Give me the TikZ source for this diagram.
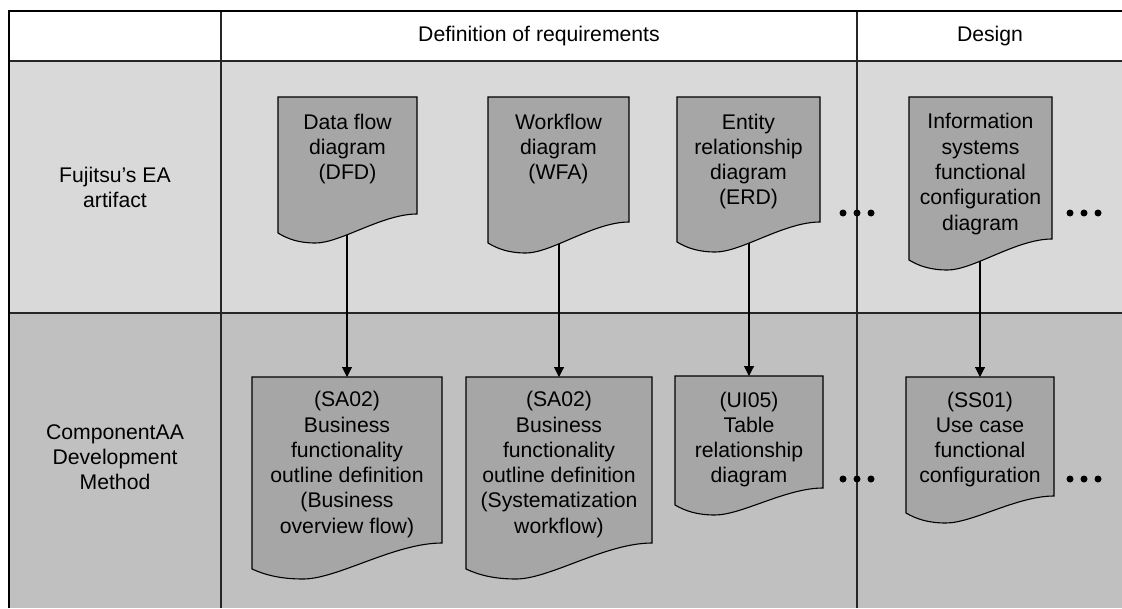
\documentclass[tikz,border=0pt]{standalone}
\usepackage{fontspec}
\setmainfont{Liberation Sans}
\usetikzlibrary{arrows.meta}
\definecolor{rowA}{HTML}{D9D9D9}
\definecolor{rowB}{HTML}{C0C0C0}
\definecolor{docfill}{HTML}{A6A6A6}
\tikzset{
  docbox/.style={draw=black, fill=docfill, line width=1.1pt},
  doctext/.style={align=center, font=\fontsize{21.2}{25.3}\selectfont, inner sep=0pt},
  hdrtext/.style={align=center, font=\fontsize{21.2}{25.3}\selectfont, inner sep=0pt},
  flow/.style={line width=1.1pt, -{Triangle[width=10pt,length=10pt]}},
  gridline/.style={line width=1.5pt, draw=black!85},
  dotmark/.style={fill=black, circle, inner sep=0pt, minimum size=7pt},
}
% x1, x2, top, yl, yr
\newcommand{\mydoc}[5]{%
  \path[docbox] (#1,#3) -- (#2,#3) -- (#2,#5)
    .. controls ({#2-0.25*(#2-#1)},#5) and ({#1+0.45*(#2-#1)},#4+10) .. ({#1+0.27*(#2-#1)},#4+10)
    .. controls ({#1+0.15*(#2-#1)},#4+10) and ({#1+0.07*(#2-#1)},#4+6) .. (#1,#4) -- cycle;}
\begin{document}
\begin{tikzpicture}[x=1pt, y=-1pt]
\useasboundingbox (0,0) rectangle (1122,608);
% backgrounds
\fill[white] (0,0) rectangle (1122,608);
\fill[rowA] (9,61) rectangle (1122,313);
\fill[rowB] (9,313) rectangle (1122,608);
% grid
\draw[gridline] (9,61) -- (1122,61);
\draw[gridline] (9,313) -- (1122,313);
\draw[gridline] (221,11) -- (221,608);
\draw[gridline] (857,11) -- (857,608);
\draw[line width=2.5pt] (9,608) -- (9,11) -- (1122,11);
% headers
\node[hdrtext] (hdef) at (539,36) {Definition of requirements};
\node[hdrtext] (hdes) at (990,36) {Design};
\node[hdrtext] (rowea) at (115,187.5) {Fujitsu’s EA\\artifact};
\node[hdrtext] (rowca) at (115,457) {ComponentAA\\Development\\Method};
% connector coordinates
\coordinate (dfd-b) at (347,200);
\coordinate (wfa-b) at (559,200);
\coordinate (erd-b) at (749,200);
\coordinate (isf-b) at (980,200);
\coordinate (sa1-t) at (347,377);
\coordinate (sa2-t) at (559,377);
\coordinate (ui5-t) at (749,376);
\coordinate (ss1-t) at (980,377);
\draw[flow] (dfd-b) -- (sa1-t);
\draw[flow] (wfa-b) -- (sa2-t);
\draw[flow] (erd-b) -- (ui5-t);
\draw[flow] (isf-b) -- (ss1-t);
% documents
\mydoc{278}{417}{97}{233}{214}
\mydoc{488}{629}{97}{243}{222}
\mydoc{677}{820}{97}{242}{222}
\mydoc{909}{1052}{97}{260}{239}
\mydoc{252}{442}{377}{569}{543}
\mydoc{466}{652}{377}{569}{543}
\mydoc{675}{823}{376}{505}{488}
\mydoc{906}{1054}{377}{513}{496}
% texts
\node[doctext] (dfd) at (347.5,149) {Data flow\\diagram\\(DFD)};
\node[doctext] (wfa) at (558.5,149) {Workflow\\diagram\\(WFA)};
\node[doctext] (erd) at (748.5,161.5) {Entity\\relationship\\diagram\\(ERD)};
\node[doctext] (isf) at (980.5,174) {Information\\systems\\functional\\configuration\\diagram};
\node[doctext] (sa1) at (347,464.5) {(SA02)\\Business\\functionality\\outline definition\\(Business\\overview flow)};
\node[doctext] (sa2) at (559,464.5) {(SA02)\\Business\\functionality\\outline definition\\(Systematization\\workflow)};
\node[doctext] (ui5) at (749,439.5) {(UI05)\\Table\\relationship\\diagram};
\node[doctext] (ss1) at (980,439.5) {(SS01)\\Use case\\functional\\configuration};
% ellipsis dots
\foreach \yy/\nm in {213/a,479/b}{
  \node[dotmark] (d1\nm) at (843,\yy) {};
  \node[dotmark] (d2\nm) at (857,\yy) {};
  \node[dotmark] (d3\nm) at (871,\yy) {};
  \node[dotmark] (d4\nm) at (1070,\yy) {};
  \node[dotmark] (d5\nm) at (1084,\yy) {};
  \node[dotmark] (d6\nm) at (1098,\yy) {};
}
\end{tikzpicture}
\end{document}
